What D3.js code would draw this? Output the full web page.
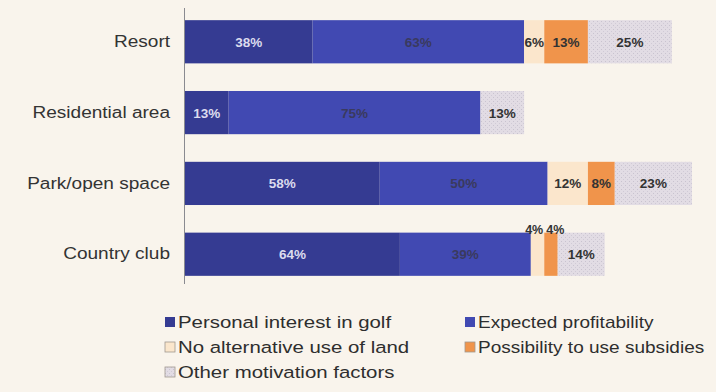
<!DOCTYPE html>
<html><head><meta charset="utf-8">
<script src="https://cdn.jsdelivr.net/npm/d3@7"></script>
<style>
html,body{margin:0;padding:0;background:#f9f4ec;}
svg{display:block;}
text{font-family:"Liberation Sans",Arial,sans-serif;}
</style></head>
<body>
<svg id="chart" width="716" height="392"></svg>
<script>
const categories = ["Resort", "Residential area", "Park/open space", "Country club"];
const seriesNames = ["Personal interest in golf", "Expected profitability", "No alternative use of land", "Possibility to use subsidies", "Other motivation factors"];
const personalInterest = [38, 13, 58, 64];
const expectedProfit   = [63, 75, 50, 39];
const noAlternative    = [6, 0, 12, 4];
const subsidies        = [13, 0, 8, 4];
const otherFactors     = [25, 13, 23, 14];
const seriesColors = ["#353b92", "#4149b2", "#fbe6cc", "#f0944b", "#e2dce4"];
const labelColors  = ["#dcdcee", "#3a3a5e", "#333333", "#333333", "#333333"];

const allSeries = [personalInterest, expectedProfit, noAlternative, subsidies, otherFactors];
const svg = d3.select("#chart");

const x = d3.scaleLinear().domain([0, 151]).range([185, 692]);
const y = d3.scaleBand().domain(categories).range([6, 290]).paddingInner(0.39).paddingOuter(0.2);

// pattern for "other"
const defs = svg.append("defs");
const pat = defs.append("pattern").attr("id","dots").attr("width",4).attr("height",4).attr("patternUnits","userSpaceOnUse");
pat.append("rect").attr("width",4).attr("height",4).attr("fill", seriesColors[4]);
pat.append("rect").attr("x",1).attr("y",1).attr("width",1).attr("height",1).attr("fill","#c9c3cf");
pat.append("rect").attr("x",3).attr("y",3).attr("width",1).attr("height",1).attr("fill","#d0cad6");

const fills = seriesColors.map((c,i)=> i===4 ? "url(#dots)" : c);

// stacked data
const rows = categories.map((c, ci) => {
  let acc = 0;
  return allSeries.map((s, si) => { const d = {cat:c, si, v:s[ci], x0:acc, x1:acc+s[ci]}; acc += s[ci]; return d; });
});

const g = svg.append("g");
rows.forEach(segs => {
  segs.filter(d => d.v > 0).forEach(d => {
    g.append("rect")
      .attr("x", x(d.x0)).attr("y", y(d.cat))
      .attr("width", x(d.x1) - x(d.x0)).attr("height", y.bandwidth())
      .attr("fill", fills[d.si]);
  });
  // labels
  let smallCount = 0;
  segs.filter(d => d.v > 0).forEach(d => {
    const w = x(d.x1) - x(d.x0);
    const small = w < 18;
    const t = g.append("text")
      .attr("font-size", small ? 12.5 : 13.5).attr("font-weight", "bold")
      .attr("fill", labelColors[d.si])
      .text(d.v + "%");
    if (small) {
      if (smallCount % 2 === 0) {
        t.attr("x", x(d.x1) - 1).attr("text-anchor", "end");
      } else {
        t.attr("x", x(d.x0) + 2).attr("text-anchor", "start");
      }
      t.attr("y", y(d.cat) + 1);
      smallCount++;
    } else {
      t.attr("x", (x(d.x0) + x(d.x1)) / 2).attr("y", y(d.cat) + y.bandwidth()/2 + 5).attr("text-anchor", "middle");
    }
  });
});

// axis line
svg.append("line").attr("x1",184.5).attr("x2",184.5).attr("y1",8).attr("y2",284)
  .attr("stroke","#8a8a90").attr("stroke-width",1);

// category axis labels (text horizontally stretched like the scan)
const sxCat = 1.19;
const yAxis = d3.axisLeft(y).tickSize(0).tickPadding(14);
const ya = svg.append("g").attr("transform","translate(184,0)").call(yAxis);
ya.select(".domain").remove();
ya.selectAll("text").attr("font-size",16).attr("fill","#333")
  .attr("font-family","'Liberation Sans',Arial,sans-serif")
  .attr("x", -14 / sxCat).attr("transform", `scale(${sxCat},1)`);

// legend
const legendPos = [[165,327],[465,327],[165,352],[465,352],[165,377]];
const legendScale = [1.2, 1.12, 1.2, 1.12, 1.2];
seriesNames.forEach((n,i) => {
  const [lx, ly] = legendPos[i];
  svg.append("rect").attr("x", lx).attr("y", ly-10).attr("width",10).attr("height",10)
    .attr("fill", fills[i]).attr("stroke", i>=2 ? "#a09890" : "none").attr("stroke-width",0.8);
  svg.append("text").attr("transform", `translate(${lx+13},${ly+1}) scale(${legendScale[i]},1)`)
    .attr("font-size",17).attr("fill","#2e2e2e").text(n);
});
</script>
</body></html>
